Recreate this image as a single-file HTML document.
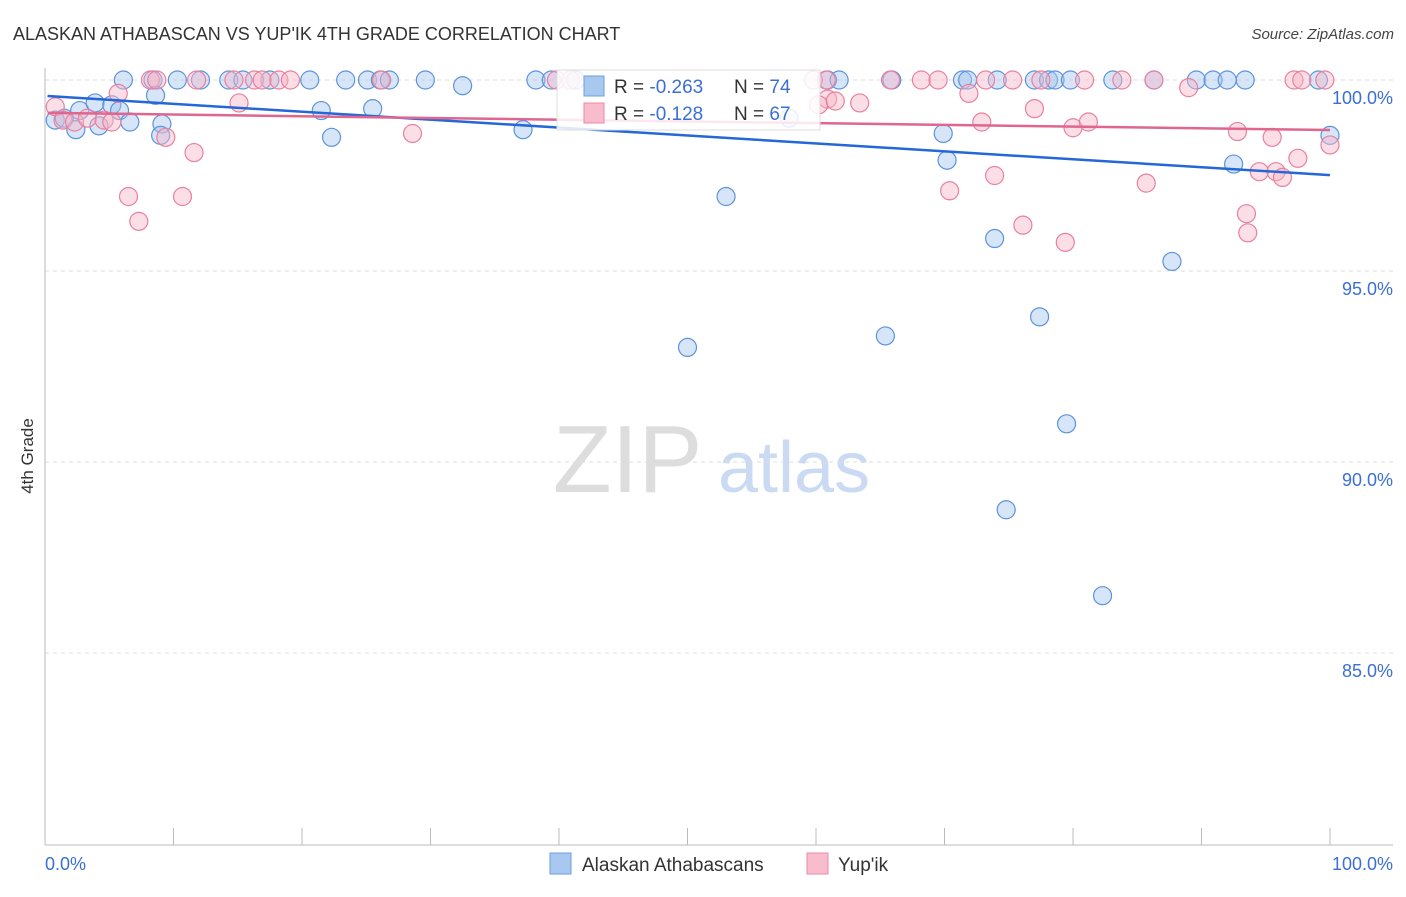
<!DOCTYPE html>
<html><head><meta charset="utf-8"><style>
body{margin:0;background:#fff;font-family:"Liberation Sans",sans-serif;}
svg text{font-family:"Liberation Sans",sans-serif;}
</style></head><body>
<svg id="chart" width="1406" height="892" xmlns="http://www.w3.org/2000/svg">
<text x="13" y="40" font-size="18" fill="#333">ALASKAN ATHABASCAN VS YUP'IK 4TH GRADE CORRELATION CHART</text>
<text x="1394" y="39" font-size="15" fill="#444" text-anchor="end" font-style="italic">Source: ZipAtlas.com</text>
<text x="553" y="492" font-size="96" fill="#ddd" font-family="Liberation Serif">ZIP</text>
<text x="718" y="492" font-size="72" fill="#c9daf2">atlas</text>
<g id="grid"></g>
<g id="axes"></g>
<g id="marks"></g>
<g id="trends"></g>
<text transform="translate(33,456) rotate(-90)" font-size="17" fill="#333" text-anchor="middle">4th Grade</text>
<g>
<rect x="557" y="70" width="263" height="60" fill="#fff" fill-opacity="0.85" stroke="#ddd"/>
<rect x="584" y="76" width="20" height="20" fill="#a9c8f0" stroke="#6b9fe0"/>
<rect x="584" y="103" width="20" height="20" fill="#f8bccd" stroke="#e98aa8"/>
<text x="614" y="93" font-size="19" fill="#333">R = <tspan fill="#3b6fd4">-0.263</tspan></text>
<text x="734" y="93" font-size="19" fill="#333">N = <tspan fill="#3b6fd4">74</tspan></text>
<text x="614" y="120" font-size="19" fill="#333">R =  <tspan fill="#3b6fd4">-0.128</tspan></text>
<text x="734" y="120" font-size="19" fill="#333">N = <tspan fill="#3b6fd4">67</tspan></text>
</g>
<g>
<rect x="550" y="853" width="21" height="21" fill="#a9c8f0" stroke="#6b9fe0"/>
<text x="582" y="871" font-size="19" fill="#333">Alaskan Athabascans</text>
<rect x="807" y="853" width="21" height="21" fill="#f8bccd" stroke="#e98aa8"/>
<text x="838" y="871" font-size="19" fill="#333">Yup'ik</text>
</g>
</svg>
<script>
const yTicks=[100,95,90,85];
const yTickLabels=["100.0%","95.0%","90.0%","85.0%"];
const xTickLabels=["0.0%","100.0%"];
const blueX=[6.1,8.4,10.3,12.1,14.3,15.4,17.5,20.6,23.4,25.1,26.1,26.8,29.6,38.2,39.4,41.3,60.9,61.8,65.9,71.4,71.8,74.1,77.0,78.1,78.6,79.8,83.1,86.3,89.6,90.9,92.0,93.4,99.1,
0.8,1.5,2.4,2.7,3.9,4.2,5.2,5.8,6.6,8.6,9.1,9.0,21.5,22.3,25.5,32.5,37.2,53.0,50.0,65.4,69.9,70.2,73.9,77.4,79.5,74.8,82.3,87.7,92.5,100,57.9];
const blueY=[100,100,100,100,100,100,100,100,100,100,100,100,100,100,100,100,100,100,100,100,100,100,100,100,100,100,100,100,100,100,100,100,100,
98.95,99.0,98.7,99.2,99.4,98.8,99.35,99.2,98.9,99.6,98.85,98.55,99.2,98.5,99.25,99.85,98.7,96.95,93.0,93.3,98.6,97.9,95.85,93.8,91.0,88.75,86.5,95.25,97.8,98.55,99.0];
const pinkX=[8.2,8.7,11.8,14.7,16.3,16.9,18.2,19.1,26.2,39.8,40.9,59.8,60.8,65.8,68.2,69.5,73.2,75.3,77.5,80.9,83.8,86.3,97.2,97.8,99.6,
0.8,1.4,2.3,3.3,4.6,5.2,5.7,6.5,7.3,9.4,10.7,11.6,15.1,28.6,60.9,60.2,61.5,63.4,70.4,71.9,72.9,73.9,76.1,77.0,79.4,80.0,81.2,85.7,89.0,92.8,93.5,93.6,94.5,95.5,95.8,96.3,97.5,100];
const pinkY=[100,100,100,100,100,100,100,100,100,100,100,100,100,100,100,100,100,100,100,100,100,100,100,100,100,
99.3,98.95,98.9,99.0,98.95,98.9,99.65,96.95,96.3,98.5,96.95,98.1,99.4,98.6,99.5,99.35,99.45,99.4,97.1,99.65,98.9,97.5,96.2,99.25,95.75,98.75,98.9,97.3,99.8,98.65,96.5,96.0,97.6,98.5,97.6,97.45,97.95,98.3];
const blueTrend=[99.58,97.51];
const pinkTrend=[99.14,98.69];
const NS="http://www.w3.org/2000/svg";
const X=v=>45+v*12.85;
const Y=v=>80+(100-v)*38.2;
function mk(tag,attrs,parent){const e=document.createElementNS(NS,tag);for(const k in attrs)e.setAttribute(k,attrs[k]);document.getElementById(parent).appendChild(e);return e;}
yTicks.forEach((t,i)=>{
 const l=mk('line',{x1:45,x2:1393,y1:Y(t),y2:Y(t),stroke:'#ddd','stroke-dasharray':'4,4'},'grid');
 
 
 const tx=mk('text',{x:1393,y:Y(t)+24,'font-size':18,fill:'#3b6fd4','text-anchor':'end'},'grid');
 tx.textContent=yTickLabels[i];
 
 
});
const ax=mk('line',{x1:45,x2:1393,y1:845,y2:845,stroke:'#bbb'},'axes');


const ay=mk('line',{x1:45,x2:45,y1:68,y2:845,stroke:'#bbb'},'axes');


for(let i=0;i<=10;i++){
 const t=mk('line',{x1:X(i*10),x2:X(i*10),y1:828,y2:845,stroke:'#bbb'},'axes');
 
 
}
const xl0=mk('text',{x:45,y:870,'font-size':18,fill:'#3b6fd4'},'axes');xl0.textContent=xTickLabels[0];


const xl1=mk('text',{x:1393,y:870,'font-size':18,fill:'#3b6fd4','text-anchor':'end'},'axes');xl1.textContent=xTickLabels[1];


function dots(xs,ys,fill,stroke,name){
 xs.forEach((x,i)=>{
  const r=(x<0.5)?16:9;
  const c=mk('circle',{cx:X(x),cy:Y(ys[i]),r:r,fill:fill,'fill-opacity':0.45,stroke:stroke,'stroke-width':1.2},'marks');
  
  
 });
}
dots(blueX,blueY,'#a4c6ee','#5d93dc','point-athabascan');
dots(pinkX,pinkY,'#f7b5c8','#e8819f','point-yupik');
const bt=mk('line',{x1:X(0.2),x2:X(100),y1:Y(blueTrend[0]),y2:Y(blueTrend[1]),stroke:'#2467d6','stroke-width':2.5},'trends');


const pt=mk('line',{x1:X(0.2),x2:X(100),y1:Y(pinkTrend[0]),y2:Y(pinkTrend[1]),stroke:'#e0668f','stroke-width':2.5},'trends');


</script>
</body></html>
